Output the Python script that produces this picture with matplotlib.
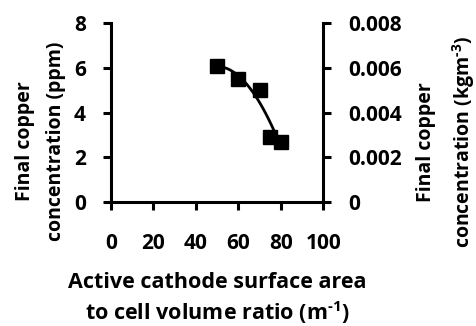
import matplotlib

matplotlib.use("Agg")
import matplotlib.pyplot as plt
import numpy as np

ratio = [50, 60, 70, 75, 80]
copper_ppm = [6.1, 5.5, 5.02, 2.93, 2.7]
left_ticks = [0, 2, 4, 6, 8]
right_ticks = [0, 0.002, 0.004, 0.006, 0.008]
right_labels = ["0", "0.002", "0.004", "0.006", "0.008"]
x_ticks = [0, 20, 40, 60, 80, 100]

plt.rcParams["font.family"] = ["Open Sans", "DejaVu Sans"]
plt.rcParams["font.weight"] = "bold"
plt.rcParams["mathtext.fontset"] = "custom"
plt.rcParams["mathtext.rm"] = "Open Sans:bold"
plt.rcParams["mathtext.bf"] = "Open Sans:bold"

fig = plt.figure(figsize=(4.76, 3.26), dpi=100)
ax = fig.add_axes([0.233, 0.380, 0.446, 0.5485])

# polynomial trendline through the points
coef = np.polyfit(ratio, copper_ppm, 2)
xs = np.linspace(min(ratio), 78, 100)
ax.plot(xs, np.polyval(coef, xs), color="black", linewidth=2, zorder=2)
ax.plot(ratio, copper_ppm, linestyle="none", marker="s", markersize=9.5,
        color="black", zorder=3)

ax.set_xlim(0, 100)
ax.set_ylim(0, 8)
ax.set_xticks(x_ticks)
ax.set_yticks(left_ticks)
ax.set_yticklabels([str(t) for t in left_ticks])

ax2 = ax.twinx()
ax2.set_ylim(0, 0.008)
ax2.set_yticks(right_ticks)
ax2.set_yticklabels(right_labels)

for a in (ax, ax2):
    a.spines["top"].set_visible(False)
    for s in a.spines.values():
        s.set_linewidth(2.2)
    a.tick_params(width=2.2, length=6, labelsize=15)
ax.spines["right"].set_visible(False)
ax2.spines["left"].set_visible(False)
ax2.spines["bottom"].set_visible(False)
ax.tick_params(axis="y", pad=12)
ax.tick_params(axis="x", pad=16)
ax2.tick_params(axis="y", pad=12)

label_kw = dict(fontsize=14, fontweight="bold", linespacing=1.75,
                rotation=90, ha="center", va="center", multialignment="center")
fig.text(0.085, 0.568, "Final copper\nconcentration (ppm)", **label_kw)
fig.text(0.938, 0.565, "Final copper\nconcentration (kgm$^{\\text{-3}}$)", **label_kw)
fig.text(0.457, 0.083,
         "Active cathode surface area\nto cell volume ratio (m$^{\\text{-1}}$)",
         fontsize=15.5, fontweight="bold", linespacing=1.25, ha="center", va="center",
         multialignment="center")

fig.savefig("out.png", dpi=100)
